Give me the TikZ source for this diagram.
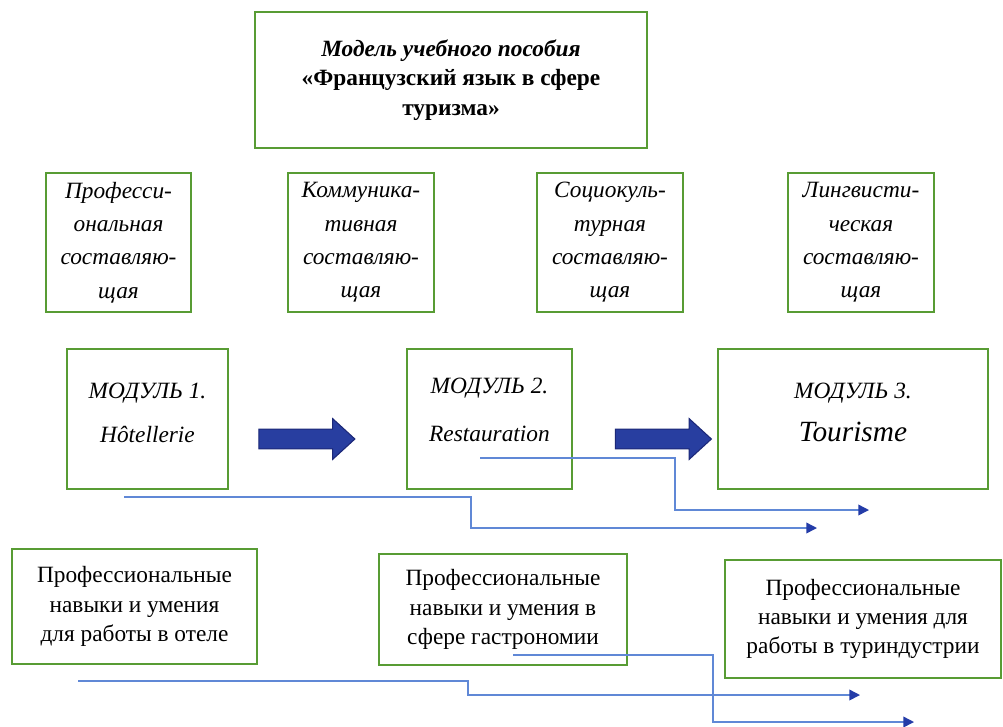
\documentclass[tikz,border=0pt]{standalone}
\usepackage{fontspec}
\setmainfont{Liberation Serif}
\usetikzlibrary{arrows.meta,shapes.arrows}
\definecolor{boxgreen}{RGB}{88,156,52}
\definecolor{lineblue}{RGB}{96,136,214}
\definecolor{tipblue}{RGB}{36,60,168}
\definecolor{arrfill}{RGB}{40,62,160}
\definecolor{arrdraw}{RGB}{28,40,120}
\begin{document}
\begin{tikzpicture}[x=0.75pt,y=-0.75pt,
  gbox/.style={draw=boxgreen, line width=1.5pt, inner sep=0pt, align=center, fill=white},
  titlebox/.style={gbox, minimum width=294pt, minimum height=102pt, font=\fontsize{17.5}{22}\selectfont\bfseries},
  comp/.style={gbox, minimum width=109pt, minimum height=104pt, font=\fontsize{17.5}{25}\selectfont\itshape},
  modbox/.style={gbox, minimum height=105pt},
  modtext/.style={align=center, inner sep=0pt, font=\fontsize{17.5}{21}\selectfont\itshape},
  skill/.style={gbox, font=\fontsize{17.5}{22}\selectfont},
  blockarrow/.style={single arrow, draw=arrdraw, fill=arrfill, line width=0.8pt,
    minimum height=72pt, inner xsep=0pt, inner ysep=7pt, single arrow head extend=7.9pt,
    single arrow tip angle=85, font=\tiny},
  conn/.style={draw=lineblue, line width=1.1pt, -{Triangle[length=8pt,width=8pt,color=tipblue]}}
]
\useasboundingbox (0,0) rectangle (1003,726);
\fill[white] (0,0) rectangle (1003,726);

% title
\node[titlebox] (title) at (451,80) {\textit{Модель учебного пособия}\\«Французский язык в сфере\\туризма»};

% components
\node[comp] (c1) at (118.5,242.5) {Професси-\\ональная\\составляю-\\щая};
\node[comp] (c2) at (361,242.5) {Коммуника-\\тивная\\составляю-\\щая};
\node[comp] (c3) at (610,242.5) {Социокуль-\\турная\\составляю-\\щая};
\node[comp] (c4) at (861,242.5) {Лингвисти-\\ческая\\составляю-\\щая};

% modules
\node[modbox, minimum width=120.75pt,
  label={[modtext, name=m1t, yshift=4.5pt]center:МОДУЛЬ 1.\\[12pt]Hôtellerie}] (m1) at (147.5,419) {};
\node[modbox, minimum width=123.75pt,
  label={[modtext, name=m2t, yshift=6.5pt]center:МОДУЛЬ 2.\\[15pt]Restauration}] (m2) at (489.5,419) {};
\node[modbox, minimum width=202.5pt,
  label={[modtext, name=m3t, yshift=5pt]center:МОДУЛЬ 3.\\[11pt]{\fontsize{22}{25}\selectfont Tourisme}}] (m3) at (853,419) {};

% block arrows
\node[blockarrow] (a1) at (301.5,439) {};
\node[blockarrow] (a2) at (658,439) {};

% skills
\node[skill, minimum width=183.75pt, minimum height=86.25pt] (b1) at (134.5,606.5) {Профессиональные\\навыки и умения\\для работы в отеле};
\node[skill, minimum width=186pt, minimum height=83.25pt] (b2) at (503,609.5) {Профессиональные\\навыки и умения в\\сфере гастрономии};
\node[skill, minimum width=207pt, minimum height=88.5pt] (b3) at (863,619) {Профессиональные\\навыки и умения для\\работы в туриндустрии};

% connector lines
\coordinate (l1s) at (124,497);
\coordinate (l1b) at (471,528);
\coordinate (l1e) at (817,528);
\coordinate (l2s) at (480,458);
\coordinate (l2b) at (675,510);
\coordinate (l2e) at (869,510);
\coordinate (l3s) at (78,681);
\coordinate (l3b) at (468,695);
\coordinate (l3e) at (860,695);
\coordinate (l4s) at (513,655);
\coordinate (l4b) at (713,722);
\coordinate (l4e) at (914,722);
\draw[conn] (l1s) -| (l1b) -- (l1e);
\draw[conn] (l2s) -| (l2b) -- (l2e);
\draw[conn] (l3s) -| (l3b) -- (l3e);
\draw[conn] (l4s) -| (l4b) -- (l4e);
\end{tikzpicture}
\end{document}
